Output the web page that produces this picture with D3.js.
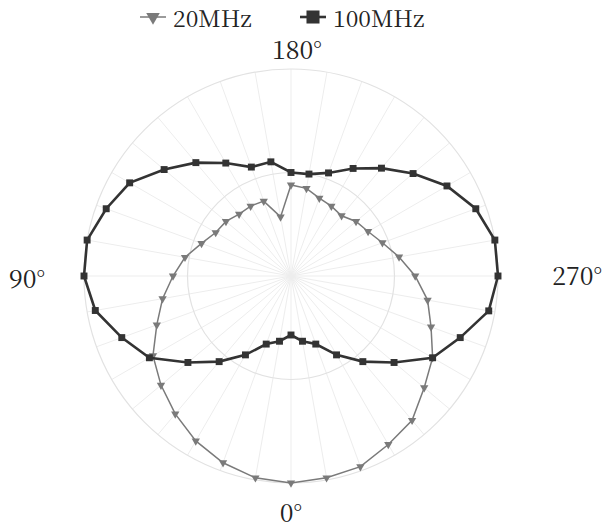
<!DOCTYPE html>
<html>
<head>
<meta charset="utf-8">
<script src="https://cdn.jsdelivr.net/npm/d3@7"></script>
<style>
  body { margin: 0; background: #fff; }
  svg text { font-family: "Noto Serif CJK SC", "Liberation Serif", serif; }
</style>
</head>
<body>
<div id="chart"></div>
<script>
// angles in degrees, 0 at bottom, clockwise
const angles = d3.range(0, 360, 10);
// normalised radius
const mhz20 = [1.00, 0.99, 0.96, 0.92, 0.87, 0.82, 0.77, 0.69, 0.63, 0.57,
               0.52, 0.46, 0.42, 0.41, 0.39, 0.39, 0.385, 0.29, 0.44, 0.43,
               0.40, 0.39, 0.38, 0.41, 0.43, 0.47, 0.53, 0.60, 0.67, 0.72,
               0.79, 0.84, 0.91, 0.94, 0.98, 0.99];
const mhz100 = [0.285, 0.32, 0.35, 0.44, 0.54, 0.65, 0.79, 0.87, 0.96, 1.00,
                1.00, 0.95, 0.90, 0.80, 0.715, 0.63, 0.56, 0.56, 0.50, 0.50,
                0.53, 0.60, 0.68, 0.77, 0.87, 0.95, 1.00, 1.00, 0.97, 0.87,
                0.79, 0.65, 0.54, 0.44, 0.35, 0.32];
const seriesNames = ["20MHz", "100MHz"];
const ringTicks = [0.5, 1];
const angleLabels = ["0°", "90°", "180°", "270°"];

const width = 605, height = 529;
const cx = 291, cy = 276, R = 207;
const serif = '"Noto Serif CJK SC", "Liberation Serif", serif';

const svg = d3.select("#chart")
  .append("svg")
    .attr("width", width)
    .attr("height", height);

const g = svg.append("g")
    .attr("transform", `translate(${cx},${cy})`);

const r = d3.scaleLinear().domain([0, 1]).range([0, R]);
// 0 deg points down, increasing clockwise
const a = d3.scaleLinear().domain([0, 360]).range([Math.PI, 3 * Math.PI]);

// spokes
g.selectAll(".spoke")
  .data(angles)
  .join("line")
    .attr("class", "spoke")
    .attr("x1", 0).attr("y1", 0)
    .attr("x2", d => r(1) * Math.sin(a(d)))
    .attr("y2", d => -r(1) * Math.cos(a(d)))
    .attr("stroke", "#ededed")
    .attr("stroke-width", 1);

// rings
g.selectAll(".ring")
  .data(ringTicks)
  .join("circle")
    .attr("class", "ring")
    .attr("r", d => r(d))
    .attr("fill", "none")
    .attr("stroke", "#e2e2e2")
    .attr("stroke-width", 1.2);

// angle labels
const labelPos = [
  {x: 0, y: R + 39, anchor: "middle"},
  {x: -R - 39, y: 12, anchor: "end"},
  {x: 6, y: -R - 10, anchor: "middle"},
  {x: R + 104, y: 9, anchor: "end"}
];
g.selectAll(".alabel")
  .data(angleLabels)
  .join("text")
    .attr("class", "alabel")
    .attr("x", (d, i) => labelPos[i].x)
    .attr("y", (d, i) => labelPos[i].y)
    .attr("text-anchor", (d, i) => labelPos[i].anchor)
    .style("font-family", serif)
    .style("font-size", "25px")
    .attr("fill", "#222")
    .text(d => d);

const line = d3.lineRadial()
  .angle(d => a(d.angle))
  .radius(d => r(d.value))
  .curve(d3.curveLinearClosed);

const series = [
  {name: seriesNames[0], values: mhz20, color: "#7a7a7a", width: 1.5,
   symbol: d3.symbolTriangle, size: 30, rotate: 180},
  {name: seriesNames[1], values: mhz100, color: "#333333", width: 2.6,
   symbol: d3.symbolSquare, size: 48, rotate: 0}
];

series.forEach(s => {
  const pts = angles.map((ang, i) => ({angle: ang, value: s.values[i]}));
  g.append("path")
    .datum(pts)
    .attr("d", line)
    .attr("fill", "none")
    .attr("stroke", s.color)
    .attr("stroke-width", s.width);

  g.selectAll(null)
    .data(pts)
    .join("path")
      .attr("d", d3.symbol().type(s.symbol).size(s.size))
      .attr("transform", d => {
        const x = r(d.value) * Math.sin(a(d.angle));
        const y = -r(d.value) * Math.cos(a(d.angle));
        return `translate(${x},${y}) rotate(${s.rotate})`;
      })
      .attr("fill", s.color);
});

// legend
const legend = svg.append("g");
const legItems = [
  {x: 140, sym: series[0], size: 80},
  {x: 300, sym: series[1], size: 170}
];
legItems.forEach(l => {
  const lg = legend.append("g").attr("transform", `translate(${l.x},17)`);
  lg.append("line")
    .attr("x1", 0).attr("x2", 26)
    .attr("stroke", l.sym.color)
    .attr("stroke-width", l.sym.width);
  lg.append("path")
    .attr("d", d3.symbol().type(l.sym.symbol).size(l.size))
    .attr("transform", `translate(13,0) rotate(${l.sym.rotate})`)
    .attr("fill", l.sym.color);
  lg.append("text")
    .attr("x", 33)
    .attr("y", 10)
    .style("font-family", serif)
    .style("font-size", "23px")
    .attr("fill", "#222")
    .text(l.sym.name);
});
</script>
</body>
</html>
